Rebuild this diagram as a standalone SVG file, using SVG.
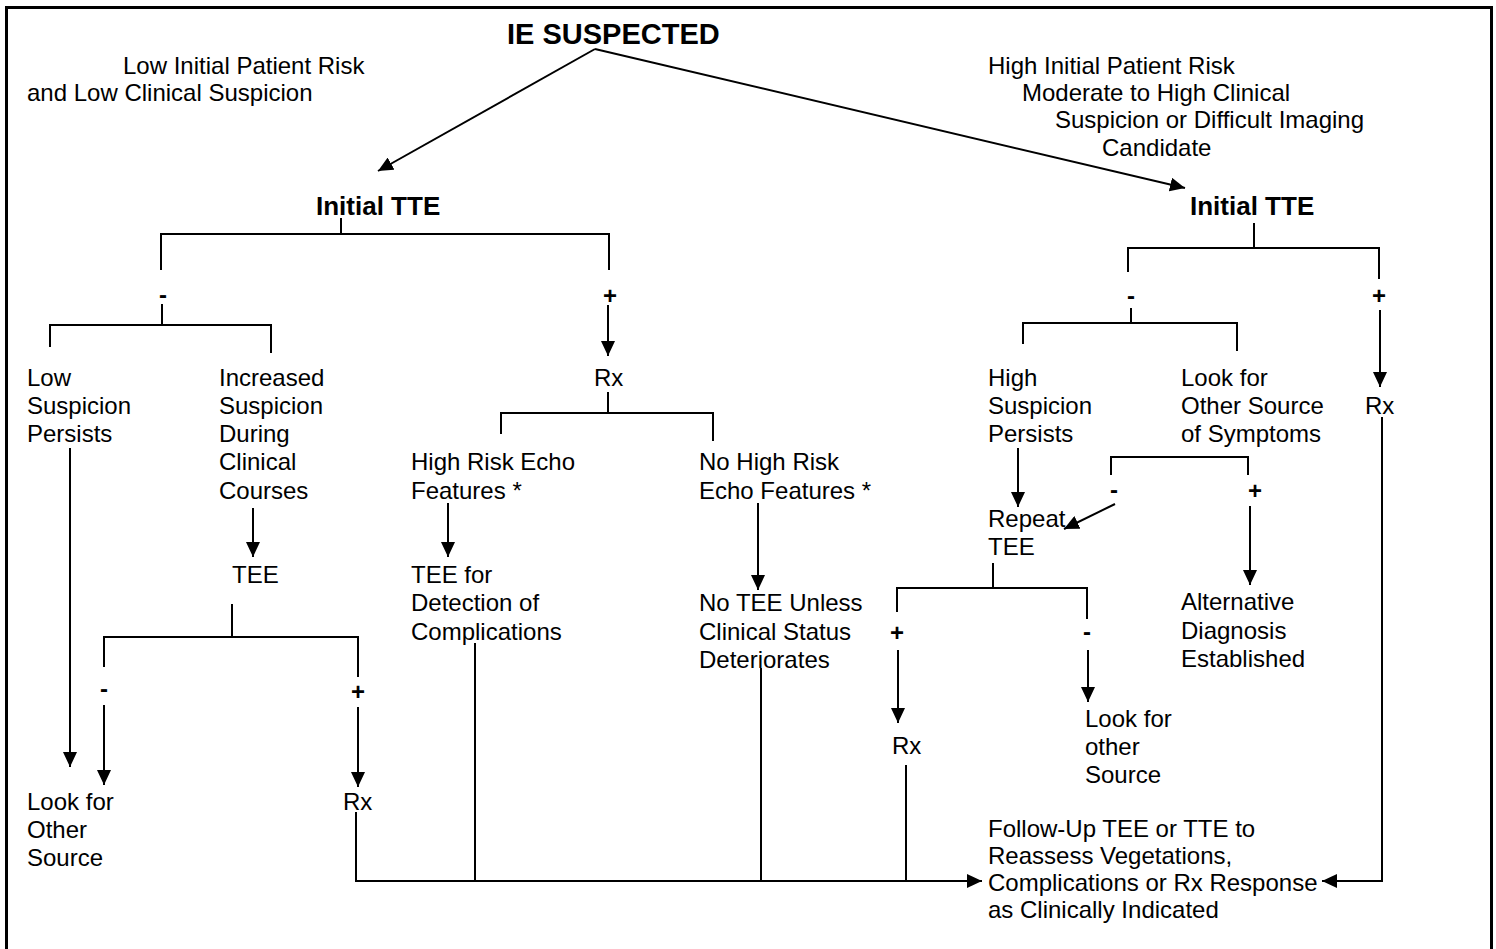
<svg xmlns="http://www.w3.org/2000/svg" width="1496" height="949" viewBox="0 0 1496 949">
<defs>
<marker id="ah" markerUnits="userSpaceOnUse" markerWidth="16" markerHeight="14" refX="15" refY="7" orient="auto">
<path d="M0,0 L15,7 L0,14 z" fill="#000"/>
</marker>
<style>
text{font-family:"Liberation Sans",Arial,sans-serif;fill:#000}
.t{font-size:24px}
.b{font-weight:bold}
.s{font-size:24px;font-weight:bold;text-anchor:middle}
.c{fill:none;stroke:#000;stroke-width:2}
.a{fill:none;stroke:#000;stroke-width:2;marker-end:url(#ah)}
</style>
</defs>
<rect x="0" y="0" width="1496" height="949" fill="#fff"/>
<rect x="6.5" y="7.5" width="1485" height="960" fill="none" stroke="#000" stroke-width="3"/>

<g id="connectors">
<path class="a" d="M595,49 L378,171"/>
<path class="a" d="M595,49 L1185,188"/>
<path class="c" d="M341,218 V234 M161,270 V234 H609 V270"/>
<path class="c" d="M162,304 V325 M50,347 V325 H271 V353"/>
<path class="a" d="M70,448 V767"/>
<path class="a" d="M253,508 V557"/>
<path class="c" d="M232,604 V637 M104,667 V637 H358 V677"/>
<path class="a" d="M104,705 V785"/>
<path class="a" d="M358,707 V787"/>
<path class="a" d="M356,812 V881 H982"/>
<path class="a" d="M608,305 V356"/>
<path class="c" d="M608,392 V413 M501,434 V413 H713 V441"/>
<path class="a" d="M448,503 V557"/>
<path class="a" d="M758,503 V590"/>
<path class="c" d="M475,643 V881"/>
<path class="c" d="M761,668 V881"/>
<path class="c" d="M1254,223 V248 M1128,272 V248 H1379 V279"/>
<path class="c" d="M1131,308 V323 M1023,344 V323 H1237 V351"/>
<path class="a" d="M1380,310 V387"/>
<path class="a" d="M1382,417 V881 H1322"/>
<path class="a" d="M1018,448 V507"/>
<path class="c" d="M1111,475 V457 H1248 V475"/>
<path class="a" d="M1115,504 L1064,529"/>
<path class="a" d="M1250,506 V585"/>
<path class="c" d="M993,563 V588 M897,612 V588 H1087 V619"/>
<path class="a" d="M898,650 V723"/>
<path class="c" d="M906,765 V881"/>
<path class="a" d="M1088,650 V702"/>
</g>

<g id="signs">
<text class="s" x="163" y="303">-</text>
<text class="s" x="610" y="304">+</text>
<text class="s" x="104" y="697">-</text>
<text class="s" x="358" y="700">+</text>
<text class="s" x="1131" y="304">-</text>
<text class="s" x="1379" y="304">+</text>
<text class="s" x="1114" y="498">-</text>
<text class="s" x="1255" y="499">+</text>
<text class="s" x="1087" y="640">-</text>
<text class="s" x="897" y="641">+</text>
</g>

<g id="n-ie"><text class="b" x="507" y="44" font-size="29">IE SUSPECTED</text></g>
<g id="n-low-risk"><text class="t" x="123" y="74">Low Initial Patient Risk</text><text class="t" x="27" y="101">and Low Clinical Suspicion</text></g>
<g id="n-high-risk"><text class="t" x="988" y="74">High Initial Patient Risk</text><text class="t" x="1022" y="101">Moderate to High Clinical</text><text class="t" x="1055" y="128">Suspicion or Difficult Imaging</text><text class="t" x="1102" y="156">Candidate</text></g>
<g id="n-tte-left"><text class="b" x="316" y="215" font-size="26">Initial TTE</text></g>
<g id="n-tte-right"><text class="b" x="1190" y="215" font-size="26">Initial TTE</text></g>
<g id="n-low-susp"><text class="t" x="27" y="386">Low<tspan x="27" dy="28">Suspicion</tspan><tspan x="27" dy="28">Persists</tspan></text></g>
<g id="n-inc-susp"><text class="t" x="219" y="386">Increased<tspan x="219" dy="28">Suspicion</tspan><tspan x="219" dy="28">During</tspan><tspan x="219" dy="28">Clinical</tspan><tspan x="219" dy="29">Courses</tspan></text></g>
<g id="n-tee"><text class="t" x="232" y="583">TEE</text></g>
<g id="n-look-left"><text class="t" x="27" y="810">Look for<tspan x="27" dy="28">Other</tspan><tspan x="27" dy="28">Source</tspan></text></g>
<g id="n-rx-left"><text class="t" x="343" y="810">Rx</text></g>
<g id="n-rx-mid"><text class="t" x="594" y="386">Rx</text></g>
<g id="n-high-echo"><text class="t" x="411" y="470">High Risk Echo<tspan x="411" dy="29">Features *</tspan></text></g>
<g id="n-no-high-echo"><text class="t" x="699" y="470">No High Risk<tspan x="699" dy="29">Echo Features *</tspan></text></g>
<g id="n-tee-detect"><text class="t" x="411" y="583">TEE for<tspan x="411" dy="28">Detection of</tspan><tspan x="411" dy="29">Complications</tspan></text></g>
<g id="n-no-tee"><text class="t" x="699" y="611">No TEE Unless<tspan x="699" dy="29">Clinical Status</tspan><tspan x="699" dy="28">Deteriorates</tspan></text></g>
<g id="n-high-susp"><text class="t" x="988" y="386">High<tspan x="988" dy="28">Suspicion</tspan><tspan x="988" dy="28">Persists</tspan></text></g>
<g id="n-look-symptoms"><text class="t" x="1181" y="386">Look for<tspan x="1181" dy="28">Other Source</tspan><tspan x="1181" dy="28">of Symptoms</tspan></text></g>
<g id="n-rx-right"><text class="t" x="1365" y="414">Rx</text></g>
<g id="n-repeat-tee"><text class="t" x="988" y="527">Repeat<tspan x="988" dy="28">TEE</tspan></text></g>
<g id="n-alt-dx"><text class="t" x="1181" y="610">Alternative<tspan x="1181" dy="29">Diagnosis</tspan><tspan x="1181" dy="28">Established</tspan></text></g>
<g id="n-rx-repeat"><text class="t" x="892" y="754">Rx</text></g>
<g id="n-look-other"><text class="t" x="1085" y="727">Look for<tspan x="1085" dy="28">other</tspan><tspan x="1085" dy="28">Source</tspan></text></g>
<g id="n-followup"><text class="t" x="988" y="837">Follow-Up TEE or TTE to<tspan x="988" dy="27">Reassess Vegetations,</tspan><tspan x="988" dy="27">Complications or Rx Response</tspan><tspan x="988" dy="27">as Clinically Indicated</tspan></text></g>
</svg>
